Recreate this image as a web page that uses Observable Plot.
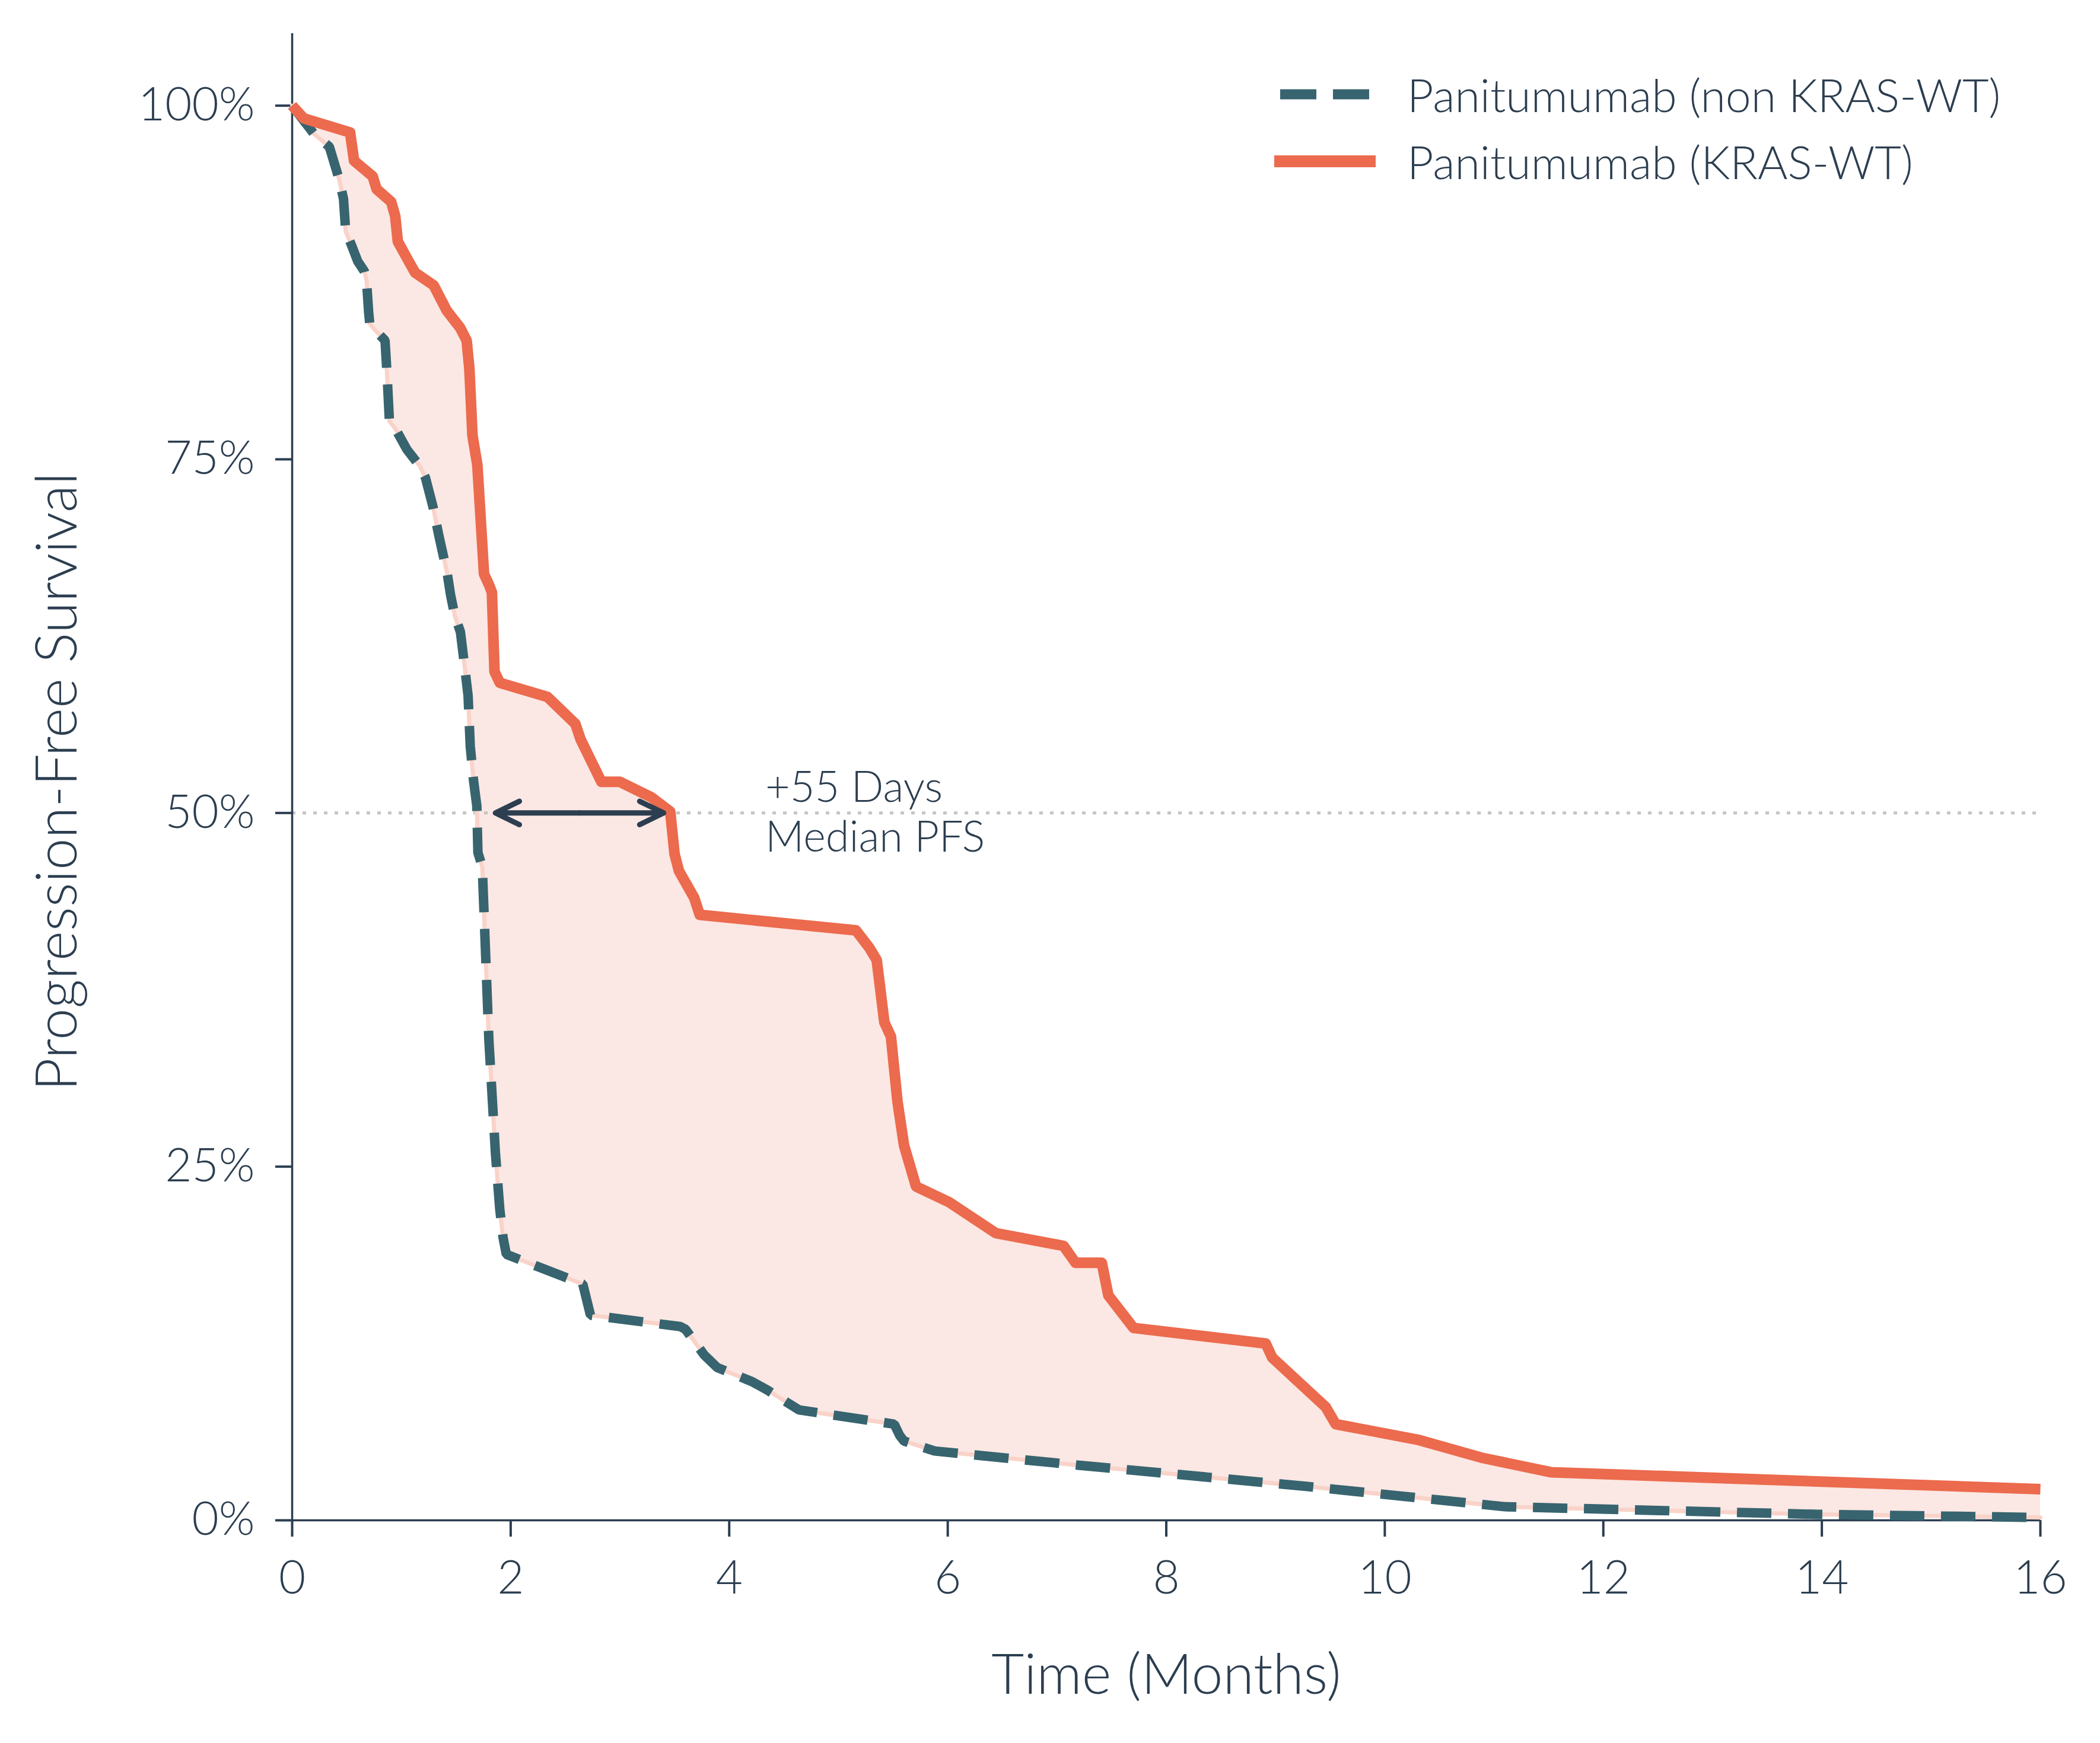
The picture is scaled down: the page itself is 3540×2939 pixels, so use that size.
<!DOCTYPE html>
<html>
<head>
<meta charset="utf-8">
<script src="https://cdn.jsdelivr.net/npm/d3@7"></script>
<script src="https://cdn.jsdelivr.net/npm/@observablehq/plot@0.6"></script>
<style>
  body { margin: 0; background: #fff; }
  #wrap { position: relative; width: 3540px; height: 2939px; font-family: Lato, "Open Sans", sans-serif; font-weight: 300; color: #2c3e50; }
  #legend { position: absolute; left: 2148px; top: 102px; }
  .item { display: flex; align-items: center; height: 113px; font-size: 77px; white-space: nowrap; }
  .item svg { margin-right: 53px; flex: none; }
</style>
</head>
<body>
<div id="wrap"><div id="legend"></div></div>
<script>
// Panitumumab (non KRAS-WT) — dashed teal curve
const nonWtMonths = [0, 0.09, 0.20, 0.34, 0.43, 0.47, 0.49, 0.54, 0.60, 0.66, 0.68, 0.70, 0.71, 0.75, 0.85, 0.87, 0.89, 0.95, 1.05, 1.17, 1.22, 1.29, 1.34, 1.42, 1.45, 1.49, 1.54, 1.57, 1.61, 1.63, 1.66, 1.69, 1.70, 1.74, 1.80, 1.86, 1.90, 1.93, 1.96, 2.66, 2.73, 3.55, 3.60, 3.77, 3.89, 4.21, 4.35, 4.64, 5.51, 5.56, 5.60, 5.88, 7.19, 9.28, 11.10, 13.96, 16.00];
const nonWtSurvival = [1.0, 0.991, 0.980, 0.971, 0.948, 0.934, 0.911, 0.902, 0.890, 0.883, 0.877, 0.854, 0.846, 0.842, 0.834, 0.808, 0.777, 0.771, 0.757, 0.745, 0.737, 0.716, 0.697, 0.669, 0.654, 0.639, 0.628, 0.609, 0.583, 0.547, 0.523, 0.505, 0.472, 0.462, 0.340, 0.260, 0.220, 0.200, 0.188, 0.167, 0.145, 0.137, 0.135, 0.117, 0.108, 0.098, 0.092, 0.078, 0.068, 0.060, 0.056, 0.049, 0.039, 0.024, 0.0096, 0.0042, 0.002];

// Panitumumab (KRAS-WT) — solid orange curve
const wtMonths = [0, 0.107, 0.53, 0.567, 0.737, 0.773, 0.906, 0.943, 0.967, 1.052, 1.125, 1.295, 1.416, 1.537, 1.597, 1.622, 1.65, 1.695, 1.756, 1.803, 1.828, 1.852, 1.901, 2.337, 2.592, 2.64, 2.83, 3.00, 3.29, 3.46, 3.50, 3.54, 3.68, 3.73, 5.16, 5.28, 5.35, 5.42, 5.48, 5.54, 5.60, 5.71, 6.01, 6.44, 7.06, 7.17, 7.41, 7.47, 7.70, 8.91, 8.97, 9.46, 9.55, 10.30, 10.90, 11.52, 16.0];
const wtSurvival = [1.0, 0.991, 0.981, 0.961, 0.950, 0.941, 0.932, 0.922, 0.904, 0.892, 0.882, 0.873, 0.855, 0.843, 0.834, 0.814, 0.767, 0.746, 0.669, 0.661, 0.656, 0.600, 0.592, 0.582, 0.563, 0.552, 0.522, 0.522, 0.511, 0.501, 0.471, 0.459, 0.440, 0.428, 0.417, 0.405, 0.396, 0.352, 0.342, 0.296, 0.265, 0.236, 0.225, 0.203, 0.194, 0.182, 0.182, 0.159, 0.136, 0.125, 0.115, 0.080, 0.068, 0.057, 0.044, 0.034, 0.022];

const seriesNames = ["Panitumumab (non KRAS-WT)", "Panitumumab (KRAS-WT)"];
const seriesColors = ["#37646f", "#ec6a4d"];
const areaColor = "#fbe7e3";
const inkColor = "#2c3e50";

const xTicks = [0, 2, 4, 6, 8, 10, 12, 14, 16];
const yTicks = [0, 0.25, 0.5, 0.75, 1];
const xLabel = "Time (Months)";
const yLabel = "Progression-Free Survival";

// Median annotation
const medianLevel = [0.5];
const arrowFrom = [1.86];
const arrowTo = [3.40];
const annotationX = [4.33];
const annotationText = ["+55 Days\nMedian PFS"];

const nonWt = nonWtMonths.map((m, i) => ({month: m, survival: nonWtSurvival[i]}));
const wt = wtMonths.map((m, i) => ({month: m, survival: wtSurvival[i]}));
const arrowMid = [(arrowFrom[0] + arrowTo[0]) / 2];

const chart = Plot.plot({
  width: 3540,
  height: 2939,
  marginLeft: 492,
  marginRight: 101,
  marginTop: 56,
  marginBottom: 376,
  style: {fontFamily: "Lato, 'Open Sans', sans-serif", fontWeight: 300, fontSize: "78px", color: inkColor, background: "#fff"},
  x: {domain: [0, 16]},
  y: {domain: [0, 1.051]},
  marks: [
    Plot.areaY(wt, {x: "month", y: "survival", fill: areaColor}),
    Plot.areaY(nonWt, {x: "month", y: "survival", fill: "#fff"}),
    Plot.ruleY(medianLevel, {stroke: "#c4c4c4", strokeWidth: 5, strokeDasharray: "6,12"}),
    Plot.axisX({ticks: xTicks, tickSize: 28, tickPadding: 40, tickFormat: d => String(d), strokeWidth: 4, label: null}),
    Plot.axisY({ticks: yTicks, tickSize: 28, tickPadding: 35, tickFormat: d => `${Math.round(d * 100)}%`, strokeWidth: 4, label: null}),
    Plot.ruleX([0], {stroke: inkColor, strokeWidth: 3.5}),
    Plot.ruleY([0], {stroke: inkColor, strokeWidth: 3.5}),
    Plot.line(nonWt, {x: "month", y: "survival", stroke: "#f9d3c9", strokeWidth: 7}),
    Plot.line(nonWt, {x: "month", y: "survival", stroke: seriesColors[0], strokeWidth: 16, strokeDasharray: "58,28", strokeLinecap: "butt", strokeLinejoin: "miter"}),
    Plot.line(wt, {x: "month", y: "survival", stroke: seriesColors[1], strokeWidth: 18, strokeLinecap: "butt", strokeLinejoin: "round"}),
    Plot.arrow(medianLevel, {x1: arrowMid, y1: d => d, x2: arrowFrom, y2: d => d, stroke: inkColor, strokeWidth: 9, headLength: 7.5, headAngle: 52}),
    Plot.arrow(medianLevel, {x1: arrowMid, y1: d => d, x2: arrowTo, y2: d => d, stroke: inkColor, strokeWidth: 9, headLength: 7.5, headAngle: 52}),
    Plot.text(annotationText, {x: annotationX, y: medianLevel, textAnchor: "start", lineAnchor: "middle", lineHeight: 1.18, fontSize: 72, fill: inkColor, dy: -4}),
    Plot.text([xLabel], {frameAnchor: "bottom", textAnchor: "middle", lineAnchor: "middle", dy: 262, fontSize: 95, fill: inkColor}),
    Plot.text([yLabel], {frameAnchor: "left", textAnchor: "middle", lineAnchor: "middle", rotate: -90, dx: -394, dy: 8, fontSize: 96, fill: inkColor})
  ]
});
document.getElementById("wrap").prepend(chart);

// Legend
const legend = document.getElementById("legend");
const swatches = [
  `<svg width="171" height="24"><line x1="10" y1="12" x2="171" y2="12" stroke="${seriesColors[0]}" stroke-width="17" stroke-dasharray="61,28"/></svg>`,
  `<svg width="171" height="24"><line x1="0" y1="12" x2="171" y2="12" stroke="${seriesColors[1]}" stroke-width="20"/></svg>`
];
seriesNames.forEach((name, i) => {
  const div = document.createElement("div");
  div.className = "item";
  div.innerHTML = swatches[i] + `<span>${name}</span>`;
  legend.appendChild(div);
});
</script>
</body>
</html>
